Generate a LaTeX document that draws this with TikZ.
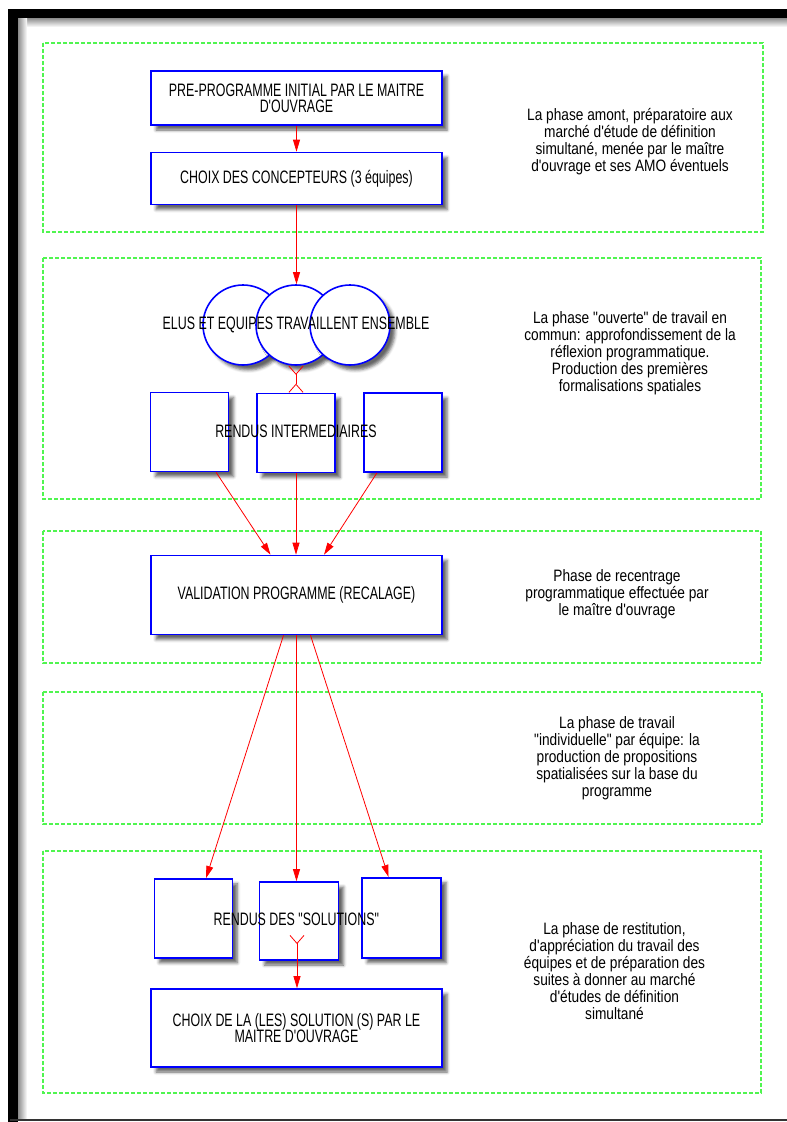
\documentclass[tikz,border=0pt]{standalone}
\usepackage{fontspec}
\usetikzlibrary{arrows.meta,shadows.blur,calc}
\newfontfamily\boxfont[FakeStretch=0.69]{Liberation Sans}
\newfontfamily\notefont[FakeStretch=0.83]{Liberation Sans}
\newcommand\boxtext{\boxfont\fontsize{18}{16}\selectfont\lineskiplimit=-20pt\relax}
\newcommand\notetext{\notefont\fontsize{16.5}{17}\selectfont\lineskiplimit=-20pt\relax}
\definecolor{phasegreen}{RGB}{80,245,80}

\begin{document}
\begin{tikzpicture}[x=1pt,y=-1pt,>={Triangle[length=12pt,width=7pt]},
  boxshadow/.style={blur shadow={shadow xshift=5pt,shadow yshift=-5pt,shadow blur radius=3pt,shadow opacity=60}},
  bluebox/.style={draw=blue,fill=white,line width=1.6pt,inner sep=0pt,align=center,boxshadow,font=\boxtext},
  widebox/.style={bluebox,minimum width=291pt},
  smallbox/.style={bluebox,minimum width=78pt,minimum height=79pt},
  circ/.style={circle,draw=blue,fill=white,line width=1.6pt,minimum size=80pt,inner sep=0pt,boxshadow},
  tag/.style={font=\boxtext,inner sep=2pt,align=center},
  note/.style={font=\notetext,align=center,inner sep=0pt},
  phase/.style={draw=phasegreen,line width=1.2pt,dash pattern=on 4pt off 2pt},
  link/.style={draw=red,line width=0.8pt},
  crow/.style={link,{Straight Barb[reversed,length=8pt,width=14pt]}-{Straight Barb[reversed,length=8pt,width=14pt]}}]
  \useasboundingbox (0,0) rectangle (787,1122);
  \shade[top color=black!45,bottom color=white] (18,18) rectangle (787,27);
  \shade[left color=black!45,right color=white] (18,18) rectangle (27,1118);
  \fill[black] (8,9) rectangle (18,1122);
  \fill[black] (8,9) rectangle (787,18);
  \draw[black!80,line width=2pt] (10,1120) -- (787,1120);

  \draw[phase] (43,43) rectangle (763,232);
  \draw[phase] (43,258) rectangle (761,499);
  \draw[phase] (43,531) rectangle (761,663);
  \draw[phase] (43,692) rectangle (762,824);
  \draw[phase] (43,851) rectangle (761,1093);

  \node[widebox,minimum height=54pt]  at (296.5,98) (pre) {PRE-PROGRAMME INITIAL PAR LE MAITRE\\D'OUVRAGE};
  \node[widebox,minimum height=52pt]  at (296.5,178.5) (choix) {CHOIX DES CONCEPTEURS (3 équipes)};
  \node[circ]  at (243,325) (elus1) {};
  \node[circ]  at (296,325) (elus2) {};
  \node[circ]  at (350,325) (elus3) {};
  \node[tag]  at (296,325) (elus) {ELUS ET EQUIPES TRAVAILLENT ENSEMBLE};
  \node[smallbox]  at (189.5,432) (ra) {};
  \node[smallbox]  at (296,433) (rb) {};
  \node[smallbox]  at (403,432.5) (rc) {};
  \node[tag]  at (296,431) (rendus) {RENDUS INTERMEDIAIRES};
  \node[widebox,minimum height=79pt]  at (296.5,595) (valid) {VALIDATION PROGRAMME (RECALAGE)};
  \node[smallbox]  at (193.3,918.3) (sa) {};
  \node[smallbox,minimum width=79pt,minimum height=78pt]  at (299,921) (sb) {};
  \node[smallbox,minimum width=79pt,minimum height=80pt]  at (401.7,917.7) (sc) {};
  \node[tag]  at (296.3,919) (sol) {RENDUS DES "SOLUTIONS"};
  \node[widebox,minimum height=78pt]  at (296.5,1028) (final) {CHOIX DE LA (LES) SOLUTION (S) PAR LE\\MAITRE D'OUVRAGE};
  \coordinate (solfoot) at (297,935);

  \node[note]  at (630,142) (amont) {La phase amont, préparatoire aux\\marché d'étude de définition\\simultané, menée par le maître\\d'ouvrage et ses AMO éventuels};
  \node[note]  at (630,353) (ouverte) {La phase "ouverte" de travail en\\commun: approfondissement de la\\réflexion programmatique.\\Production des premières\\formalisations spatiales};
  \node[note]  at (617,594) (recentrage) {Phase de recentrage\\programmatique effectuée par\\le maître d'ouvrage};
  \node[note]  at (617,758) (individuelle) {La phase de travail\\"individuelle" par équipe: la\\production de propositions\\spatialisées sur la base du\\programme};
  \node[note]  at (614.5,971) (restitution) {La phase de restitution,\\d'appréciation du travail des\\équipes et de préparation des\\suites à donner au marché\\d'études de définition\\simultané};

  \draw[link,->] (pre.south) -- (pre.south |- choix.north);
  \draw[link,->] (choix.south) -- (choix.south |- elus2.north);
  \draw[crow] (elus2.south) -- (elus2.south |- rb.north);
  \draw[link,->] (ra) -- ($(valid.north)+(-26,0)$);
  \draw[link,->] (rb.south) -- (rb.south |- valid.north);
  \draw[link,->] (rc) -- ($(valid.north)+(27.5,0)$);
  \draw[link,->] ($(valid.south)+(-13,0)$) -- (sa);
  \draw[link,->] (valid.south) -- (valid.south |- sb.north);
  \draw[link,->] ($(valid.south)+(14,0)$) -- (sc);
  \draw[link,{Straight Barb[reversed,length=8pt,width=14pt]}->] (solfoot) -- (solfoot |- final.north);
\end{tikzpicture}
\end{document}
